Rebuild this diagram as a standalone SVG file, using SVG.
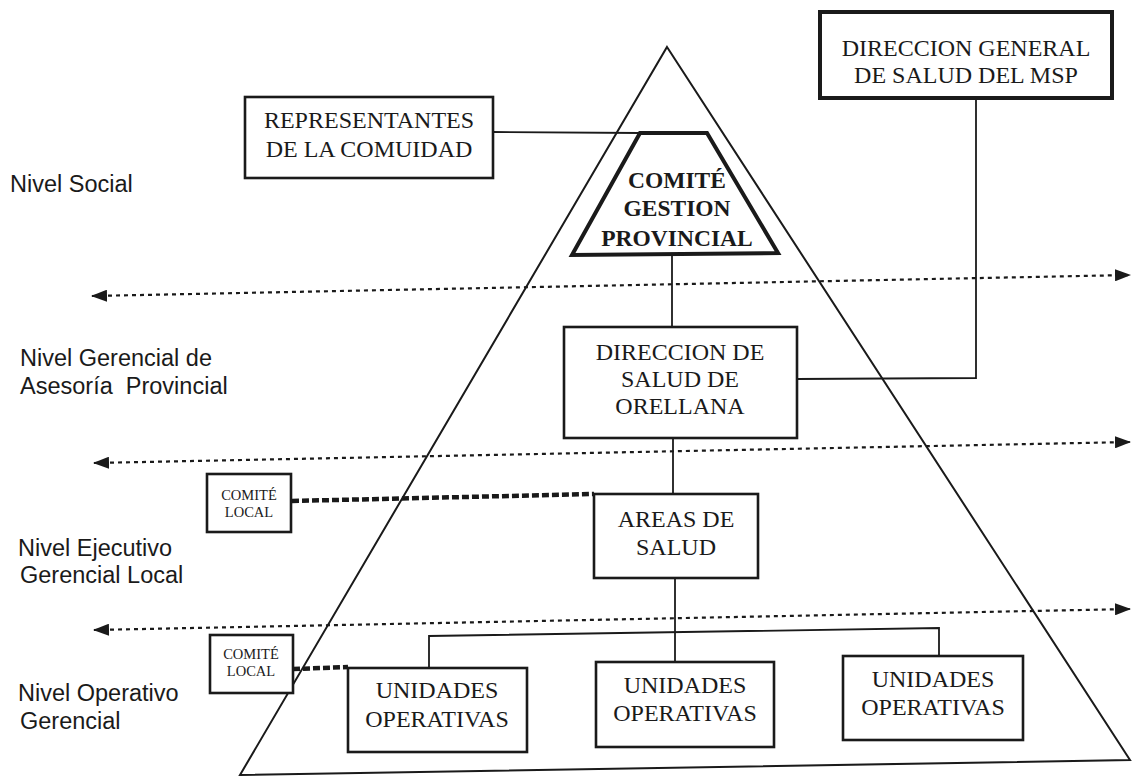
<svg xmlns="http://www.w3.org/2000/svg" width="1134" height="776" viewBox="0 0 1134 776">
<style>
.bg{fill:#fff}
.box{fill:#fff;stroke:#1a1a1a;stroke-width:2.6}
.thick{fill:#fff;stroke:#1a1a1a;stroke-width:4}
.ln{fill:none;stroke:#1a1a1a;stroke-width:1.8}
.lvl{fill:none;stroke:#1a1a1a;stroke-width:2.2;stroke-dasharray:4 4}
.dash{fill:none;stroke:#1a1a1a;stroke-width:4.5;stroke-dasharray:7 3}
.t{font-family:"Liberation Serif","Times New Roman",serif;font-size:24px;fill:#1a1a1a;text-anchor:middle}
.tb{font-family:"Liberation Serif","Times New Roman",serif;font-size:23.5px;font-weight:bold;fill:#1a1a1a;text-anchor:middle}
.ts{font-family:"Liberation Serif","Times New Roman",serif;font-size:14.5px;fill:#1a1a1a;text-anchor:middle}
.lab{font-family:"Liberation Sans",Arial,sans-serif;font-size:23.5px;fill:#1a1a1a}
</style>
<defs>
<marker id="ah" markerUnits="userSpaceOnUse" markerWidth="16" markerHeight="12" viewBox="0 0 16 12" refX="15" refY="6" orient="auto-start-reverse">
<path d="M0,0 L16,6 L0,12 z" fill="#1a1a1a"/>
</marker>
</defs>
<rect class="bg" x="0" y="0" width="1134" height="776"/>

<g id="pyramid">
<polygon points="667,47 1130,760 240,775" fill="none" stroke="#1a1a1a" stroke-width="2"/>
</g>

<g id="levels">
<line class="lvl" x1="92" y1="296" x2="1130" y2="275" marker-start="url(#ah)" marker-end="url(#ah)"/>
<line class="lvl" x1="94" y1="463" x2="1130" y2="442" marker-start="url(#ah)" marker-end="url(#ah)"/>
<line class="lvl" x1="94" y1="630" x2="1130" y2="609" marker-start="url(#ah)" marker-end="url(#ah)"/>
</g>

<g id="connectors">
<polyline class="ln" points="493,132 640,133"/>
<polyline class="ln" points="672,255 672,327"/>
<polyline class="ln" points="797,379 976,378 976,98"/>
<polyline class="ln" points="673,438 673,494"/>
<polyline class="ln" points="675,578 675,662"/>
<polyline class="ln" points="429,668 429,636 939,628 939,656"/>
<polyline class="dash" points="292,501 594,494"/>
<polyline class="dash" points="293,669 348,667"/>
</g>

<g id="labels">
<text class="lab" x="10" y="192">Nivel Social</text>
<text class="lab" x="20" y="366">Nivel Gerencial de</text>
<text class="lab" x="20" y="394" xml:space="preserve">Asesoría  Provincial</text>
<text class="lab" x="18" y="556">Nivel Ejecutivo</text>
<text class="lab" x="20" y="583">Gerencial Local</text>
<text class="lab" x="18" y="701">Nivel Operativo</text>
<text class="lab" x="20" y="729">Gerencial</text>
</g>

<g id="dir-general">
<rect class="thick" x="820" y="12" width="292" height="86"/>
<text class="t" x="966" y="56">DIRECCION GENERAL</text>
<text class="t" x="966" y="83">DE SALUD DEL MSP</text>
</g>

<g id="representantes">
<rect class="box" x="245" y="97" width="248" height="81"/>
<text class="t" x="369" y="128">REPRESENTANTES</text>
<text class="t" x="369" y="157">DE LA COMUIDAD</text>
</g>

<g id="comite-gestion">
<polygon class="thick" points="640,133 707,133 778,253 572,255"/>
<text class="tb" x="677" y="188">COMITÉ</text>
<text class="tb" x="677" y="216">GESTION</text>
<text class="tb" x="677" y="246">PROVINCIAL</text>
</g>

<g id="dir-orellana">
<rect class="box" x="564" y="327" width="233" height="111"/>
<text class="t" x="680" y="360">DIRECCION DE</text>
<text class="t" x="680" y="387">SALUD DE</text>
<text class="t" x="680" y="414">ORELLANA</text>
</g>

<g id="areas">
<rect class="box" x="594" y="494" width="164" height="84"/>
<text class="t" x="676" y="527">AREAS DE</text>
<text class="t" x="676" y="555">SALUD</text>
</g>

<g id="comite-local-1">
<rect class="box" x="207" y="474" width="84" height="58"/>
<text class="ts" x="249" y="500">COMITÉ</text>
<text class="ts" x="249" y="517">LOCAL</text>
</g>

<g id="comite-local-2">
<rect class="box" x="210" y="635" width="83" height="58"/>
<text class="ts" x="251" y="659">COMITÉ</text>
<text class="ts" x="251" y="676">LOCAL</text>
</g>

<g id="unidades-1">
<rect class="box" x="348" y="668" width="179" height="84"/>
<text class="t" x="437" y="698">UNIDADES</text>
<text class="t" x="437" y="727">OPERATIVAS</text>
</g>

<g id="unidades-2">
<rect class="box" x="596" y="662" width="178" height="85"/>
<text class="t" x="685" y="693">UNIDADES</text>
<text class="t" x="685" y="721">OPERATIVAS</text>
</g>

<g id="unidades-3">
<rect class="box" x="843" y="656" width="180" height="84"/>
<text class="t" x="933" y="687">UNIDADES</text>
<text class="t" x="933" y="715">OPERATIVAS</text>
</g>
</svg>
